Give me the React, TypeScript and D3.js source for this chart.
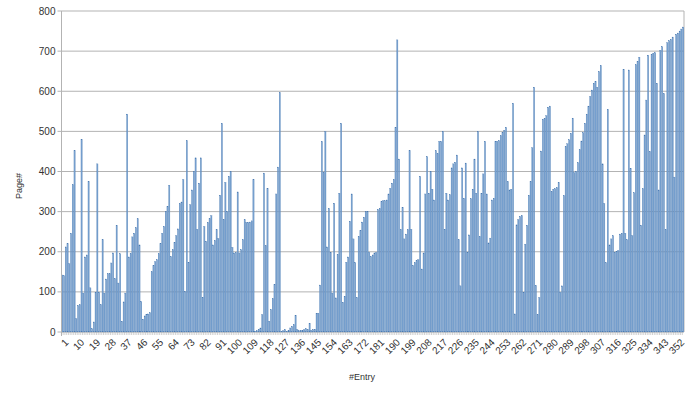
import React, { useEffect, useRef } from 'react';
import * as d3 from 'd3';

// page counts per entry
const pages: number[] = [
  142, 140, 212, 220, 170, 246, 367, 452, 33, 66, 68, 480, 97, 187, 192, 375, 110, 8, 25, 99,
  419, 99, 68, 230, 97, 132, 145, 145, 172, 197, 133, 266, 122, 195, 27, 75, 97, 543, 187, 195,
  237, 246, 260, 282, 217, 76, 32, 40, 44, 45, 48, 150, 165, 175, 180, 195, 220, 246, 263, 300,
  313, 366, 188, 205, 223, 240, 257, 320, 324, 380, 101, 477, 174, 317, 354, 400, 434, 256, 371, 434,
  86, 263, 226, 273, 282, 290, 217, 228, 255, 233, 341, 520, 280, 373, 300, 388, 400, 211, 197, 198,
  349, 197, 205, 230, 280, 273, 273, 274, 277, 380, 2, 3, 7, 10, 43, 396, 215, 358, 27, 56,
  83, 118, 344, 411, 597, 1, 3, 6, 2, 3, 10, 14, 18, 42, 6, 3, 4, 4, 6, 8,
  6, 22, 4, 6, 7, 46, 47, 117, 475, 397, 500, 212, 308, 199, 97, 321, 85, 193, 346, 520,
  74, 89, 174, 187, 276, 344, 232, 173, 86, 238, 253, 274, 286, 300, 300, 198, 188, 192, 197, 198,
  305, 308, 325, 327, 327, 329, 344, 358, 371, 380, 510, 728, 431, 255, 311, 232, 244, 255, 452, 256,
  166, 173, 178, 180, 388, 157, 197, 344, 437, 346, 400, 356, 329, 452, 444, 475, 475, 500, 256, 346,
  329, 342, 409, 419, 423, 441, 230, 115, 409, 333, 421, 198, 242, 332, 356, 431, 346, 500, 238, 346,
  394, 475, 344, 222, 234, 329, 333, 475, 475, 477, 489, 497, 503, 510, 375, 354, 356, 570, 45, 267,
  280, 288, 290, 99, 219, 266, 341, 375, 459, 610, 116, 43, 86, 451, 530, 532, 539, 560, 563, 350,
  356, 357, 360, 373, 99, 115, 340, 462, 469, 479, 495, 533, 397, 400, 422, 454, 476, 497, 520, 543,
  563, 587, 603, 620, 624, 610, 649, 664, 419, 320, 173, 555, 217, 232, 240, 199, 201, 203, 244, 246,
  655, 246, 230, 653, 408, 240, 347, 666, 674, 685, 266, 357, 491, 578, 690, 450, 692, 695, 696, 620,
  354, 702, 711, 594, 255, 721, 726, 729, 735, 386, 742, 745, 750, 755, 760,
];
const entries: number[] = pages.map((_, i) => i + 1);
const yTicks: number[] = [0, 100, 200, 300, 400, 500, 600, 700, 800];

export default function App() {
  const ref = useRef<SVGSVGElement>(null);

  useEffect(() => {
    if (!ref.current) return;
    const svg = d3.select(ref.current);
    svg.selectAll('*').remove();

    const W = 700, H = 393;
    const m = { top: 11, right: 16, bottom: 61, left: 61.5 };
    const font = 'Liberation Sans, Arial, sans-serif';

    const x = d3.scaleBand<number>()
      .domain(entries)
      .range([m.left, W - m.right])
      .paddingInner(0.3)
      .paddingOuter(0.1);
    const y = d3.scaleLinear().domain([0, 800]).range([H - m.bottom, m.top]);

    // grid
    svg.append('g')
      .selectAll('line')
      .data(yTicks)
      .enter()
      .append('line')
      .attr('x1', m.left - 4)
      .attr('x2', W - m.right)
      .attr('y1', d => y(d))
      .attr('y2', d => y(d))
      .attr('stroke', '#b3b3b3')
      .attr('stroke-width', 1);

    // right border of plot
    svg.append('line')
      .attr('x1', W - m.right).attr('x2', W - m.right)
      .attr('y1', y(800)).attr('y2', y(0))
      .attr('stroke', '#b3b3b3');

    // bars
    svg.append('g')
      .selectAll('rect')
      .data(pages)
      .enter()
      .append('rect')
      .attr('x', (_, i) => x(entries[i])!)
      .attr('width', x.bandwidth())
      .attr('y', d => y(d))
      .attr('height', d => y(0) - y(d))
      .attr('fill', '#7aa3d1')
      .attr('stroke', '#4677b0')
      .attr('stroke-width', 0.3);

    // left axis line
    svg.append('line')
      .attr('x1', m.left).attr('x2', m.left)
      .attr('y1', y(800)).attr('y2', y(0) + 4)
      .attr('stroke', '#b3b3b3');

    // x tick marks for every entry
    svg.append('g')
      .selectAll('line')
      .data(entries)
      .enter()
      .append('line')
      .attr('x1', d => x(d)! - x.step() * x.paddingInner() / 2)
      .attr('x2', d => x(d)! - x.step() * x.paddingInner() / 2)
      .attr('y1', y(0))
      .attr('y2', y(0) + 3)
      .attr('stroke', '#b3b3b3')
      .attr('stroke-width', 0.6);

    // y labels
    svg.append('g')
      .selectAll('text')
      .data(yTicks)
      .enter()
      .append('text')
      .attr('x', m.left - 6)
      .attr('y', d => y(d))
      .attr('dy', '0.35em')
      .attr('text-anchor', 'end')
      .attr('font-family', font)
      .attr('font-size', 10)
      .attr('fill', '#333')
      .text(d => d);

    // x labels, every 9th entry
    const xLabels = entries.filter(d => (d - 1) % 9 === 0);
    svg.append('g')
      .selectAll('text')
      .data(xLabels)
      .enter()
      .append('text')
      .attr('transform', d => `translate(${x(d)! + x.bandwidth() / 2 + 2},${y(0) + 6}) rotate(-45)`)
      .attr('text-anchor', 'end')
      .attr('dy', '0.7em')
      .attr('font-family', font)
      .attr('font-size', 10)
      .attr('fill', '#333')
      .text(d => d);

    svg.append('text')
      .attr('x', 362)
      .attr('y', 380)
      .attr('text-anchor', 'middle')
      .attr('font-family', font)
      .attr('font-size', 9)
      .attr('fill', '#333')
      .text('#Entry');

    svg.append('text')
      .attr('transform', 'translate(22,186) rotate(-90)')
      .attr('text-anchor', 'middle')
      .attr('font-family', font)
      .attr('font-size', 9)
      .attr('fill', '#333')
      .text('Page#');
  }, []);

  return (
    <svg
      ref={ref}
      width={700}
      height={393}
      style={{ position: 'absolute', left: 0, top: 0, background: '#fff' }}
    />
  );
}
